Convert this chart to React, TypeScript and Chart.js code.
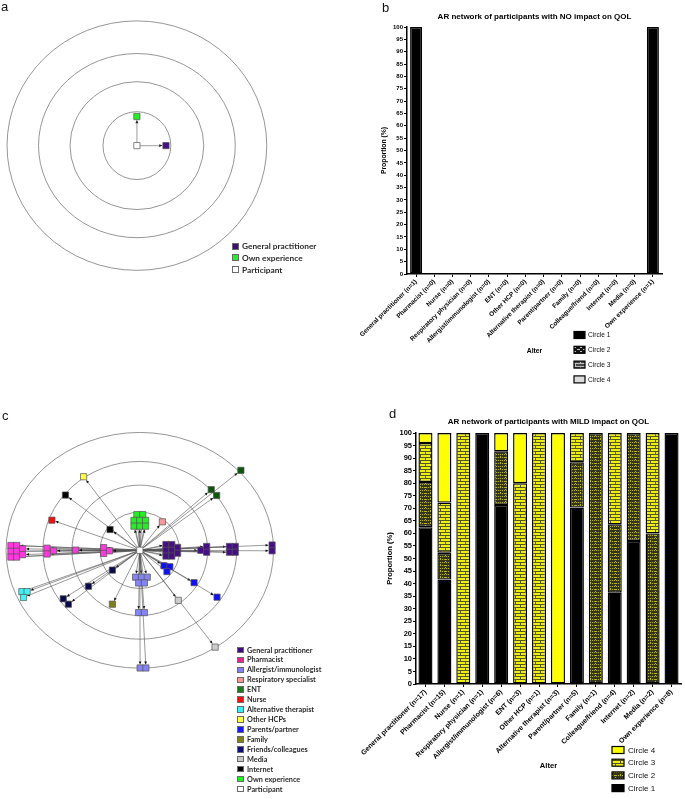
import React, { useEffect, useRef } from 'react';
import { Chart, registerables } from 'chart.js';

Chart.register(...registerables);

const SANS = "'Liberation Sans', Arial, Helvetica, sans-serif";
const LEGEND_FONT = "Lato, 'Open Sans', sans-serif";

/* ---------------- Bar chart data (panels b and d) ---------------- */
const circleLabels = ['Circle 1', 'Circle 2', 'Circle 3', 'Circle 4'];

const altersNo = [
  'General practitioner (n=1)', 'Pharmacist (n=0)', 'Nurse (n=0)', 'Respiratory physician (n=0)',
  'Allergist/immunologist (n=0)', 'ENT (n=0)', 'Other HCP (n=0)', 'Alternative therapist (n=0)',
  'Parent/partner (n=0)', 'Family (n=0)', 'Colleague/friend (n=0)', 'Internet (n=0)', 'Media (n=0)',
  'Own experience (n=1)',
];
const noCircle1 = [100, 0, 0, 0, 0, 0, 0, 0, 0, 0, 0, 0, 0, 100];
const noCircle2 = [0, 0, 0, 0, 0, 0, 0, 0, 0, 0, 0, 0, 0, 0];
const noCircle3 = [0, 0, 0, 0, 0, 0, 0, 0, 0, 0, 0, 0, 0, 0];
const noCircle4 = [0, 0, 0, 0, 0, 0, 0, 0, 0, 0, 0, 0, 0, 0];

const altersMild = [
  'General practitioner (n=17)', 'Pharmacist (n=15)', 'Nurse (n=1)', 'Respiratory physician (n=1)',
  'Allergist/immunologist (n=6)', 'ENT (n=3)', 'Other HCP (n=1)', 'Alternative therapist (n=3)',
  'Parent/partner (n=5)', 'Family (n=1)', 'Colleague/friend (n=4)', 'Internet (n=2)', 'Media (n=2)',
  'Own experience (n=8)',
];
const mildCircle1 = [62.5, 41.6, 0, 100, 71.3, 0, 0, 0, 70.3, 0, 36.4, 57, 0, 100];
const mildCircle2 = [18, 10.7, 0, 0, 21.4, 0, 0, 0, 18, 100, 27.2, 43, 60, 0];
const mildCircle3 = [15.5, 20, 100, 0, 0, 80, 100, 0, 11.7, 0, 36.4, 0, 40, 0];
const mildCircle4 = [4, 27.7, 0, 0, 7.3, 20, 0, 100, 0, 0, 0, 0, 0, 0];

/* ---------------- Network data (panels a and c) ---------------- */
const networkLabels = [
  'General practitioner', 'Pharmacist', 'Allergist/immunologist', 'Respiratory specialist', 'ENT',
  'Nurse', 'Alternative therapist', 'Other HCPs', 'Parents/partner', 'Family', 'Friends/colleagues',
  'Media', 'Internet', 'Own experience', 'Participant',
];
const legendSwatchColors = [
  '#3F0C7C', '#E3288C', '#8080F0', '#F29696', '#1C7A1C', '#F01010', '#3CF0F0', '#FFFF40',
  '#1818F0', '#80801C', '#10106E', '#C8C8C8', '#000000', '#24EE24', '#FFFFFF',
];
const nodeFillColors = [
  '#450F85', '#FF38E0', '#8484F4', '#F59A9A', '#0C560C', '#F01010', '#40F4F4', '#FFFF40',
  '#1010F4', '#7E7E1E', '#0A0A48', '#CCCCCC', '#000000', '#24EE24', '#FFFFFF',
];

// panel a: rings (horizontal / vertical radii) and nodes
const ringRxA = [35, 69, 101.5, 134];
const ringRyA = [35, 66, 95, 128.7];
const aGeneralPractitioner = [{ x: 30, y: 0 }];
const aOwnExperience = [{ x: 0, y: 30 }];
const aParticipant = [{ x: 0, y: 0 }];

// panel c: rings and nodes
const ringRxC = [41, 70, 100, 138];
const ringRyC = [39.5, 67.5, 92, 122];
const cGeneralPractitioner = [
  { x: 27, y: 6 }, { x: 27, y: 0 }, { x: 27, y: -6 }, { x: 33, y: 6 }, { x: 33, y: 0 }, { x: 33, y: -6 },
  { x: 39, y: 3 }, { x: 39, y: -3 }, { x: 63, y: 0 }, { x: 69, y: 4 }, { x: 69, y: -2 },
  { x: 92.5, y: 4 }, { x: 98.5, y: 4 }, { x: 92.5, y: -2 }, { x: 98.5, y: -2 },
  { x: 136.5, y: 5.5 }, { x: 136.5, y: -0.5 },
];
const cPharmacist = [
  { x: -133, y: 5 }, { x: -133, y: -1 }, { x: -133, y: -7 }, { x: -127, y: 5 }, { x: -127, y: -1 },
  { x: -127, y: -7 }, { x: -121, y: 1.5 }, { x: -121, y: -4.5 }, { x: -95.7, y: 2.2 },
  { x: -95.7, y: -3.8 }, { x: -89, y: -0.5 }, { x: -66.3, y: 0.2 }, { x: -37.3, y: 2.8 },
  { x: -37.3, y: -3.2 }, { x: -31.3, y: -0.5 },
];
const cAllergist = [
  { x: -4.3, y: -27.8 }, { x: 1.7, y: -27.8 }, { x: 7.7, y: -27.8 }, { x: -1.3, y: -33.8 },
  { x: 4.7, y: -33.8 }, { x: -1.3, y: -64.5 }, { x: 4.7, y: -64.5 }, { x: 0.3, y: -121.8 },
  { x: 6.3, y: -121.8 },
];
const cRespiratory = [{ x: 23.3, y: 29.5 }];
const cENT = [{ x: 73.7, y: 62.8 }, { x: 79.3, y: 56.8 }, { x: 104.3, y: 82.8 }];
const cNurse = [{ x: -90.7, y: 31.2 }];
const cAlternative = [{ x: -121.7, y: -42.8 }, { x: -116.3, y: -42.8 }, { x: -120, y: -48.8 }];
const cOtherHCPs = [{ x: -58, y: 76.2 }];
const cParents = [
  { x: 25, y: -16 }, { x: 31, y: -17 }, { x: 28, y: -22 }, { x: 56, y: -33.5 }, { x: 79.7, y: -48.5 },
];
const cFamily = [{ x: -28.3, y: -55.8 }];
const cFriends = [
  { x: -28.3, y: -20.5 }, { x: -53, y: -37.2 }, { x: -79, y: -50.2 }, { x: -73.7, y: -55.8 },
];
const cMedia = [{ x: 39.7, y: -51.8 }, { x: 77.7, y: -100.2 }];
const cInternet = [{ x: -76.7, y: 57.2 }, { x: -30.7, y: 21.5 }];
const cOwnExperience = [
  { x: -3, y: 37 }, { x: 3, y: 37 }, { x: -6, y: 31 }, { x: 0, y: 31 }, { x: 6, y: 31 },
  { x: -6, y: 25 }, { x: 0, y: 25 }, { x: 6, y: 25 },
];
const cParticipant = [{ x: 0, y: 0 }];

/* ---------------- helpers ---------------- */
function brickPattern(bg: string, line: string, dotted: boolean) {
  const c = document.createElement('canvas');
  const w = 10;
  const h = 6;
  c.width = w;
  c.height = h;
  const g = c.getContext('2d')!;
  g.fillStyle = bg;
  g.fillRect(0, 0, w, h);
  g.fillStyle = line;
  const step = dotted ? 2 : 1;
  for (let x = 0; x < w; x += step) {
    g.fillRect(x, 0, 1, 1);
    g.fillRect(x, 3, 1, 1);
  }
  for (let y = 0; y < 3; y += step) {
    g.fillRect(0, y, 1, 1);
    g.fillRect(5, y + 3, 1, 1);
  }
  return g.createPattern(c, 'repeat')!;
}
function dashPattern(bg: string, line: string) {
  const c = document.createElement('canvas');
  c.width = 6;
  c.height = 4;
  const g = c.getContext('2d')!;
  g.fillStyle = bg;
  g.fillRect(0, 0, 6, 4);
  g.fillStyle = line;
  g.fillRect(1, 1, 3, 1);
  g.fillRect(4, 3, 2, 1);
  return g.createPattern(c, 'repeat')!;
}

const networkPlugin = {
  id: 'netRings',
  beforeDatasetsDraw(chart: any, _args: any, opts: any) {
    const { ctx } = chart;
    const xs = chart.scales.x;
    const ys = chart.scales.y;
    const cx = xs.getPixelForValue(0);
    const cy = ys.getPixelForValue(0);
    ctx.save();
    ctx.strokeStyle = opts.ringColor;
    ctx.lineWidth = opts.ringWidth;
    (opts.rx as number[]).forEach((r, i) => {
      const prx = xs.getPixelForValue(r) - cx;
      const pry = cy - ys.getPixelForValue(opts.ry[i]);
      ctx.beginPath();
      ctx.ellipse(cx, cy, prx, pry, 0, 0, Math.PI * 2);
      ctx.stroke();
    });
    const half = opts.half;
    const head = opts.head;
    chart.data.datasets.forEach((ds: any, di: number) => {
      if (ds.label === 'Participant') return;
      const meta = chart.getDatasetMeta(di);
      meta.data.forEach((pt: any) => {
        const dx = pt.x - cx;
        const dy = pt.y - cy;
        const len = Math.hypot(dx, dy);
        if (len < 2) return;
        const ux = dx / len;
        const uy = dy / len;
        const k = half / Math.max(Math.abs(ux), Math.abs(uy));
        const ex = pt.x - ux * k;
        const ey = pt.y - uy * k;
        const sx = cx + ux * k;
        const sy = cy + uy * k;
        ctx.strokeStyle = opts.edgeColor;
        ctx.lineWidth = opts.edgeWidth;
        ctx.beginPath();
        ctx.moveTo(sx, sy);
        ctx.lineTo(ex - ux * head * 0.7, ey - uy * head * 0.7);
        ctx.stroke();
        ctx.fillStyle = opts.headColor;
        ctx.beginPath();
        ctx.moveTo(ex, ey);
        ctx.lineTo(ex - ux * head - uy * head * 0.42, ey - uy * head + ux * head * 0.42);
        ctx.lineTo(ex - ux * head + uy * head * 0.42, ey - uy * head - ux * head * 0.42);
        ctx.closePath();
        ctx.fill();
      });
    });
    ctx.restore();
  },
};

const barLegendPlugin = {
  id: 'barLegend',
  afterDraw(chart: any, _args: any, opts: any) {
    const { ctx } = chart;
    ctx.save();
    ctx.font = opts.font;
    ctx.textBaseline = 'middle';
    (opts.order as number[]).forEach((di, i) => {
      const ds = chart.data.datasets[di];
      const yc = opts.y + i * opts.step;
      ctx.fillStyle = ds.backgroundColor;
      ctx.fillRect(opts.x, yc - opts.h / 2, opts.w, opts.h);
      ctx.strokeStyle = '#000';
      ctx.lineWidth = 1.2;
      ctx.strokeRect(opts.x, yc - opts.h / 2, opts.w, opts.h);
      ctx.fillStyle = '#111';
      ctx.fillText(ds.label, opts.x + opts.w + opts.gap, yc + 0.5);
    });
    ctx.restore();
  },
};

function networkConfig(
  groups: { idx: number; nodes: { x: number; y: number }[] }[],
  rx: number[], ry: number[], xMin: number, xMax: number, yMin: number, yMax: number,
  edge: { color: string; width: number; head: number; headColor: string },
) {
  return {
    type: 'scatter',
    data: {
      datasets: groups.map((g) => ({
        label: networkLabels[g.idx],
        data: g.nodes,
        pointStyle: 'rect',
        pointRadius: 4.4,
        pointHoverRadius: 4.4,
        pointBackgroundColor: nodeFillColors[g.idx],
        pointBorderColor: '#555',
        pointBorderWidth: 0.7,
      })),
    },
    options: {
      animation: false,
      responsive: false,
      events: [],
      layout: { padding: 0 },
      plugins: {
        legend: { display: false },
        tooltip: { enabled: false },
        title: { display: false },
        netRings: {
          rx, ry, ringColor: '#8a8a8a', ringWidth: 0.9, half: 3.3,
          edgeColor: edge.color, edgeWidth: edge.width, head: edge.head, headColor: edge.headColor,
        },
      },
      scales: {
        x: { type: 'linear', min: xMin, max: xMax, display: false },
        y: { type: 'linear', min: yMin, max: yMax, display: false },
      },
    },
    plugins: [networkPlugin],
  };
}

function barConfig(p: {
  labels: string[]; series: number[][]; colors: any[]; title: string;
  padRight: number; titlePad: { top: number; bottom: number }; yWidth: number; xHeight: number;
  yTitlePad: number; xTitlePad: number; barPct: number; tickFont: number; yTickFont: number;
  axisFont: number; legend: any;
}) {
  return {
    type: 'bar',
    data: {
      labels: p.labels,
      datasets: p.series.map((s, i) => ({
        label: circleLabels[i],
        data: s,
        backgroundColor: p.colors[i],
        borderColor: '#000',
        borderWidth: 1.4,
        borderSkipped: false,
        barPercentage: p.barPct,
        categoryPercentage: 1,
      })),
    },
    options: {
      animation: false,
      responsive: false,
      events: [],
      layout: { padding: { left: 0, right: p.padRight, top: 0, bottom: 0 } },
      plugins: {
        legend: { display: false },
        tooltip: { enabled: false },
        title: {
          display: true, text: p.title, fullSize: false, color: '#000',
          font: { family: SANS, size: 8, weight: 'bold' }, padding: p.titlePad,
        },
        barLegend: p.legend,
      },
      scales: {
        x: {
          stacked: true,
          offset: true,
          grid: { display: true, drawOnChartArea: false, drawTicks: true, tickLength: 3, color: '#000', lineWidth: 1, offset: false },
          border: { display: true, color: '#000', width: 1.5 },
          ticks: {
            autoSkip: false, maxRotation: 45, minRotation: 45, color: '#000', padding: 1,
            font: { family: SANS, size: p.tickFont, weight: 'bold' },
          },
          title: {
            display: true, text: 'Alter', color: '#000',
            font: { family: SANS, size: p.axisFont, weight: 'bold' },
            padding: { top: 0, bottom: p.xTitlePad },
          },
          afterFit: (s: any) => { s.height = p.xHeight; },
        },
        y: {
          stacked: true,
          min: 0,
          max: 100,
          grid: { display: true, drawOnChartArea: false, drawTicks: true, tickLength: 3, color: '#000', lineWidth: 1 },
          border: { display: true, color: '#000', width: 1.5 },
          ticks: {
            stepSize: 5, color: '#000', padding: 1,
            font: { family: SANS, size: p.yTickFont, weight: 'bold' },
          },
          title: {
            display: true, text: 'Proportion (%)', color: '#000',
            font: { family: SANS, size: p.axisFont, weight: 'bold' },
            padding: { top: p.yTitlePad, bottom: 0 },
          },
          afterFit: (s: any) => { s.width = p.yWidth; },
        },
      },
    },
    plugins: [barLegendPlugin],
  };
}

/* ---------------- components ---------------- */
function ChartCanvas(props: { left: number; top: number; width: number; height: number; build: () => any }) {
  const ref = useRef<HTMLCanvasElement>(null);
  useEffect(() => {
    const chart = new Chart(ref.current as HTMLCanvasElement, props.build());
    return () => chart.destroy();
  }, []);
  return (
    <canvas
      ref={ref}
      width={props.width}
      height={props.height}
      style={{ position: 'absolute', left: props.left, top: props.top, width: props.width, height: props.height, display: 'block' }}
    />
  );
}

function NetLegend(props: { left: number; top: number; step: number; size: number; gap: number; fontSize: number; items: number[] }) {
  return (
    <>
      {props.items.map((idx, i) => (
        <div
          key={i}
          style={{
            position: 'absolute', left: props.left, top: props.top + i * props.step - 6, height: 12,
            display: 'flex', alignItems: 'center', whiteSpace: 'nowrap',
            fontFamily: LEGEND_FONT, fontWeight: 700, fontSize: props.fontSize, color: '#2a2a2a',
          }}
        >
          <span
            style={{
              display: 'inline-block', width: props.size, height: props.size, background: legendSwatchColors[idx],
              border: '1px solid #6a6a6a', boxSizing: 'border-box', marginRight: props.gap, flex: 'none',
            }}
          />
          <span>{networkLabels[idx]}</span>
        </div>
      ))}
    </>
  );
}

function PanelLetter(props: { text: string; left: number; top: number }) {
  return (
    <div style={{ position: 'absolute', left: props.left, top: props.top, fontFamily: SANS, fontSize: 13, lineHeight: '13px', color: '#111' }}>
      {props.text}
    </div>
  );
}

export default function App() {
  const buildA = () =>
    networkConfig(
      [
        { idx: 0, nodes: aGeneralPractitioner },
        { idx: 13, nodes: aOwnExperience },
        { idx: 14, nodes: aParticipant },
      ],
      ringRxA, ringRyA, -136, 194, -185, 145,
      { color: '#b4b4b4', width: 1.3, head: 3.5, headColor: '#222' },
    );
  const buildC = () =>
    networkConfig(
      [
        { idx: 0, nodes: cGeneralPractitioner },
        { idx: 1, nodes: cPharmacist },
        { idx: 2, nodes: cAllergist },
        { idx: 3, nodes: cRespiratory },
        { idx: 4, nodes: cENT },
        { idx: 5, nodes: cNurse },
        { idx: 6, nodes: cAlternative },
        { idx: 7, nodes: cOtherHCPs },
        { idx: 8, nodes: cParents },
        { idx: 9, nodes: cFamily },
        { idx: 10, nodes: cFriends },
        { idx: 11, nodes: cMedia },
        { idx: 12, nodes: cInternet },
        { idx: 13, nodes: cOwnExperience },
        { idx: 14, nodes: cParticipant },
      ],
      ringRxC, ringRyC, -139, 191, -144.5, 155.5,
      { color: '#555', width: 0.6, head: 3.2, headColor: '#111' },
    );
  const buildB = () =>
    barConfig({
      labels: altersNo,
      series: [noCircle1, noCircle2, noCircle3, noCircle4],
      colors: ['#000000', dashPattern('#151515', '#bdbdbd'), brickPattern('#4a4a4a', '#bcbcbc', false), '#dcdcdc'],
      title: 'AR network of participants with NO impact on QOL',
      padRight: 23, titlePad: { top: 12, bottom: 5.4 }, yWidth: 77, xHeight: 121,
      yTitlePad: 50, xTitlePad: 39.5, barPct: 0.66, tickFont: 6.4, yTickFont: 6, axisFont: 6.8,
      legend: { x: 244, y: 335, step: 14.8, w: 11, h: 7, gap: 3, order: [0, 1, 2, 3], font: `6.6px ${SANS}` },
    });
  const buildD = () =>
    barConfig({
      labels: altersMild,
      series: [mildCircle1, mildCircle2, mildCircle3, mildCircle4],
      colors: ['#000000', brickPattern('#34341c', '#b8b800', true), brickPattern('#eeee10', '#55551e', false), '#ffff00'],
      title: 'AR network of participants with MILD impact on QOL',
      padRight: 4, titlePad: { top: 17, bottom: 6.4 }, yWidth: 86, xHeight: 115,
      yTitlePad: 55.5, xTitlePad: 28.5, barPct: 0.74, tickFont: 7, yTickFont: 7.5, axisFont: 7.6,
      legend: { x: 282, y: 350, step: 12.7, w: 12, h: 7, gap: 4, order: [3, 2, 1, 0], font: `8px ${SANS}` },
    });

  return (
    <div style={{ position: 'absolute', left: 0, top: 0, width: 685, height: 799, background: '#fff', overflow: 'hidden' }}>
      <ChartCanvas left={0} top={0} width={330} height={330} build={buildA} />
      <ChartCanvas left={0} top={395} width={330} height={300} build={buildC} />
      <ChartCanvas left={330} top={0} width={355} height={395} build={buildB} />
      <ChartCanvas left={330} top={400} width={355} height={399} build={buildD} />
      <NetLegend left={232} top={246} step={11.75} size={7} gap={3} fontSize={8.3} items={[0, 13, 14]} />
      <NetLegend left={237} top={650} step={9.93} size={6.5} gap={3.5} fontSize={7.3} items={[0, 1, 2, 3, 4, 5, 6, 7, 8, 9, 10, 11, 12, 13, 14]} />
      <PanelLetter text="a" left={1} top={0} />
      <PanelLetter text="b" left={382} top={1} />
      <PanelLetter text="c" left={2} top={409} />
      <PanelLetter text="d" left={389} top={407} />
    </div>
  );
}
